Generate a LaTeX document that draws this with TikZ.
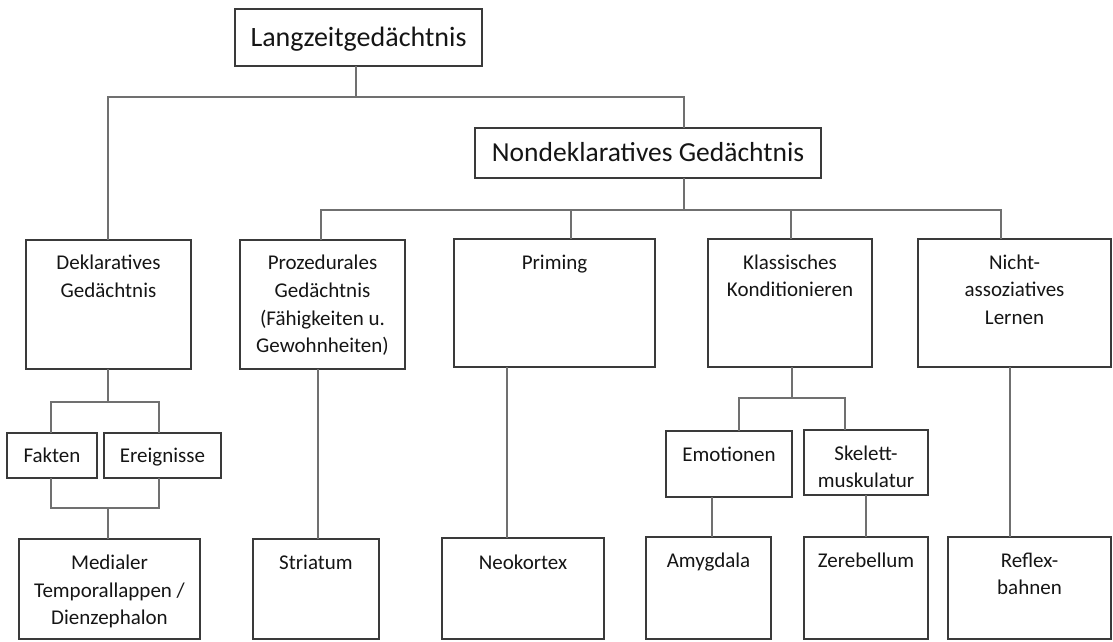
\documentclass[tikz,border=0pt]{standalone}
\usepackage{fontspec}
\setmainfont{Carlito}
\definecolor{boxc}{HTML}{3A3A3A}
\definecolor{linec}{HTML}{707070}
\definecolor{txtc}{HTML}{151515}
\newcommand\bnode[8][]{\node[box,#1,anchor=north west] (#2) at (#3,#4) {\parbox[c][#6pt][t]{#5pt}{\centering\rule{0pt}{#7pt}#8\par}};}
\begin{document}
\begin{tikzpicture}[x=1pt,y=-1pt,
  box/.style={draw=boxc, line width=1.5pt, inner sep=0pt, outer sep=0pt, text=txtc,
    font=\fontsize{21}{27.8}\selectfont},
  bigA/.style={font=\fontsize{28}{34}\selectfont},
  bigB/.style={font=\fontsize{27.5}{34}\selectfont},
  conn/.style={draw=linec, line width=1.2pt}]
\useasboundingbox (0,0) rectangle (1113,641);
% top level
\bnode[bigA]{lz}{235}{9}{247}{57}{37.7}{Langzeitgedächtnis}
\bnode[bigB]{nd}{475}{128}{346}{50}{33.7}{Nondeklaratives Gedächtnis}
% second row
\bnode{dek}{26}{240}{165}{129}{29.5}{Deklaratives\\Gedächtnis}
\bnode{proz}{240}{240}{165}{129}{29.5}{Prozedurales\\Gedächtnis\\(Fähigkeiten u.\\Gewohnheiten)}
\bnode{prim}{454}{239}{201}{128}{30.5}{Priming}
\bnode{klas}{708}{239}{164}{128}{30}{Klassisches\\Konditionieren}
\bnode{nass}{918}{239}{193}{128}{30}{Nicht-\\assoziatives\\Lernen}
% third row
\bnode{fak}{7}{433}{90}{45}{29.5}{Fakten}
\bnode{ere}{104}{433}{117}{45}{29.5}{Ereignisse}
\bnode{emo}{666}{431}{126}{66}{30}{Emotionen}
\bnode{ske}{804}{430}{124}{65}{30}{Skelett-\\muskulatur}
% bottom row
\bnode{med}{19}{539}{181}{100}{30.3}{Medialer\\Temporallappen /\\Dienzephalon}
\bnode{str}{253}{539}{126}{100}{30}{Striatum}
\bnode{neo}{442}{538}{162}{101}{31}{Neokortex}
\bnode{amy}{646}{537}{125}{102}{30}{Amygdala}
\bnode{zer}{804}{537}{124}{102}{30}{Zerebellum}
\bnode{ref}{948}{537}{163}{102}{30}{Reflex-\\bahnen}
% bus coordinates
\coordinate (b1) at (356,97);
\coordinate (b2) at (684,210);
\coordinate (b3) at (108,402);
\coordinate (b4) at (108,508);
\coordinate (b5) at (792,398);
% connectors
\draw[conn] (b1 |- lz.south) -- (b1);
\draw[conn] (dek.north -| 108,0) |- (b1);
\draw[conn] (nd.north -| 684,0) |- (b1);
\draw[conn] (nd.south -| b2) -- (b2);
\draw[conn] (proz.north -| 321,0) |- (b2);
\draw[conn] (prim.north -| 571,0) |- (b2);
\draw[conn] (klas.north -| 791,0) |- (b2);
\draw[conn] (nass.north -| 1001,0) |- (b2);
% declarative branch
\draw[conn] (dek.south -| b3) -- (b3);
\draw[conn] (fak.north -| 51,0) |- (b3);
\draw[conn] (ere.north -| 159,0) |- (b3);
\draw[conn] (fak.south -| 51,0) |- (b4);
\draw[conn] (ere.south -| 159,0) |- (b4);
\draw[conn] (b4) -- (med.north -| b4);
% straight links
\draw[conn] (proz.south -| 318,0) -- (str.north -| 318,0);
\draw[conn] (prim.south -| 507,0) -- (neo.north -| 507,0);
\draw[conn] (nass.south -| 1010,0) -- (ref.north -| 1010,0);
% classical conditioning branch
\draw[conn] (klas.south -| b5) -- (b5);
\draw[conn] (emo.north -| 739,0) |- (b5);
\draw[conn] (ske.north -| 845,0) |- (b5);
\draw[conn] (emo.south -| 712,0) -- (amy.north -| 712,0);
\draw[conn] (ske.south -| 866,0) -- (zer.north -| 866,0);
\end{tikzpicture}
\end{document}
